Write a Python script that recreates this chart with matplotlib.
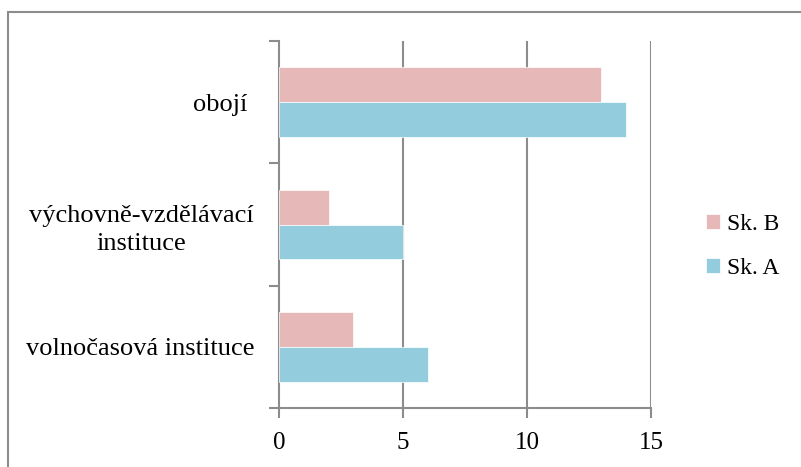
import matplotlib
matplotlib.use("Agg")
import matplotlib.pyplot as plt
from matplotlib.patches import Rectangle
import numpy as np

categories = ["volnočasová instituce", "výchovně-vzdělávací\ninstituce", "obojí "]
sk_a = [6, 5, 14]
sk_b = [3, 2, 13]
series_names = ["Sk. B", "Sk. A"]
xticks = [0, 5, 10, 15]

color_b = "#E6B9B8"
color_a = "#93CDDD"
grid_color = "#8C8C8C"

plt.rcParams["font.family"] = ["Liberation Serif", "DejaVu Serif"]

fig = plt.figure(figsize=(8.01, 4.67), dpi=100)
ax = fig.add_axes([279 / 801, 59 / 467, 372 / 801, 367 / 467])

y = np.arange(len(categories))
h = 0.286
ax.barh(y + h / 2, sk_b, height=h, color=color_b, edgecolor="white", linewidth=0.5,
        label=series_names[0], zorder=3)
ax.barh(y - h / 2, sk_a, height=h, color=color_a, edgecolor="white", linewidth=0.5,
        label=series_names[1], zorder=3)

ax.set_xlim(0, 15)
ax.set_ylim(-0.5, len(categories) - 0.5)
ax.set_xticks(xticks)
ax.set_xticklabels([str(v) for v in xticks], fontsize=18)

# category boundaries carry the tick marks, category centres carry the labels
ax.set_yticks(np.arange(len(categories) + 1) - 0.5)
ax.set_yticklabels([])
ax.set_yticks(y, minor=True)
ax.set_yticklabels(categories, minor=True, fontsize=19, ha="right", multialignment="center",
                   linespacing=1.35)
ax.tick_params(axis="y", which="minor", length=0, pad=18)
ax.tick_params(axis="y", which="major", length=7, width=1.5, color=grid_color, direction="out")
ax.tick_params(axis="x", length=7, width=1.5, color=grid_color, direction="out", pad=10)

for v in xticks[1:]:
    ax.axvline(v, color=grid_color, linewidth=1.5, zorder=1)

for s in ["top", "right"]:
    ax.spines[s].set_visible(False)
for s in ["left", "bottom"]:
    ax.spines[s].set_color(grid_color)
    ax.spines[s].set_linewidth(1.5)

handles, labels = ax.get_legend_handles_labels()
fig.legend(handles, labels, loc="center left", bbox_to_anchor=(706 / 801, 1 - 246.5 / 467),
           frameon=False, fontsize=17, borderpad=0, borderaxespad=0,
           handlelength=0.6, handleheight=0.6, handletextpad=0.3, labelspacing=1.0)

# outer chart border
fig.patches.append(Rectangle((8 / 801, -0.1), 1.2, 1 - 12 / 467 + 0.1, transform=fig.transFigure,
                             fill=False, edgecolor=grid_color, linewidth=1.5))

fig.savefig("out.png", dpi=100)
